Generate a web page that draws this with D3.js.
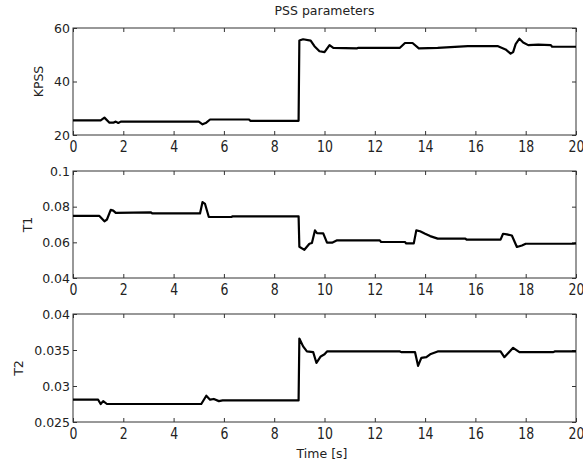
<!DOCTYPE html>
<html>
<head>
<meta charset="utf-8">
<script src="https://cdn.jsdelivr.net/npm/d3@7"></script>
<style>
  body { margin: 0; background: #fff; }
  text { font-family: "DejaVu Sans", Verdana, sans-serif; fill: #222; }
</style>
</head>
<body>
<div id="viz"></div>
<script>
// data (time in s)
var kpssTime  = [0, 1.1, 1.25, 1.45, 1.6, 1.7, 1.8, 1.9, 5.0, 5.15, 5.3, 5.45, 7.0, 7.05, 8.97,
                 9.0, 9.15, 9.45, 9.6, 9.8, 10.0, 10.2, 10.35, 11.3, 11.35, 13.0, 13.2, 13.5, 13.75,
                 14.5, 15.7, 16.9, 17.2, 17.4, 17.5, 17.6, 17.75, 17.9, 18.1, 18.5, 19.0, 19.05, 20];
var kpssValue = [25.5, 25.5, 26.5, 24.6, 24.6, 25.0, 24.5, 25.0, 25.0, 24.0, 24.6, 25.8, 25.8, 25.3, 25.3,
                 55.3, 55.8, 55.3, 53.2, 51.3, 51.0, 53.6, 52.6, 52.4, 52.6, 52.6, 54.4, 54.4, 52.4,
                 52.6, 53.2, 53.2, 52.0, 50.4, 51.0, 54.0, 56.0, 54.6, 53.6, 53.8, 53.6, 53.0, 53.0];

var t1Time  = [0, 1.05, 1.25, 1.35, 1.5, 1.6, 1.7, 3.1, 3.15, 5.05, 5.15, 5.25, 5.4, 6.3, 6.35, 8.97,
               9.0, 9.2, 9.4, 9.5, 9.62, 9.7, 9.95, 10.1, 10.3, 10.5, 12.2, 12.25, 13.2, 13.25, 13.55,
               13.65, 13.8, 14.0, 14.2, 14.5, 15.6, 15.65, 17.0, 17.1, 17.25, 17.45, 17.65, 17.85, 18.0,
               19.9, 20];
var t1Value = [0.0748, 0.0748, 0.0718, 0.0728, 0.0782, 0.0778, 0.0765, 0.0768, 0.0762, 0.0762, 0.0826,
               0.0815, 0.0742, 0.0742, 0.0746, 0.0746,
               0.0575, 0.0558, 0.0592, 0.0596, 0.0667, 0.0652, 0.065, 0.0598, 0.0598, 0.0611, 0.0611,
               0.0602, 0.0602, 0.0594, 0.0594,
               0.0667, 0.0662, 0.0648, 0.0635, 0.0621, 0.0621, 0.0615, 0.0615, 0.0648, 0.0645, 0.0638,
               0.0574, 0.0582, 0.0592, 0.0592, 0.0594];

var t2Time  = [0, 1.0, 1.1, 1.2, 1.35, 5.1, 5.3, 5.45, 5.6, 5.8, 5.95, 8.97,
               9.0, 9.15, 9.3, 9.55, 9.68, 9.85, 10.0, 10.1, 13.0, 13.05, 13.6, 13.72, 13.85, 14.05,
               14.2, 14.5, 17.0, 17.15, 17.5, 17.75, 19.1, 19.15, 20];
var t2Value = [0.0281, 0.0281, 0.0275, 0.0279, 0.0275, 0.0275, 0.02865, 0.0281, 0.0282, 0.0279, 0.0280, 0.0280,
               0.0366, 0.0355, 0.0348, 0.0347, 0.0332, 0.0341, 0.0344, 0.0348, 0.0348, 0.0347, 0.0347,
               0.0328, 0.0339, 0.0340, 0.0344, 0.0348, 0.0348, 0.0340, 0.0353, 0.0347, 0.0347, 0.0348, 0.0348];

var xTicks    = [0, 2, 4, 6, 8, 10, 12, 14, 16, 18, 20];
var kpssTicks = [20, 40, 60];
var t1Ticks   = [0.04, 0.06, 0.08, 0.1];
var t2Ticks   = [0.025, 0.03, 0.035, 0.04];

var W = 583, H = 467;
var left = 73, right = 576;

var svg = d3.select("#viz").append("svg")
  .attr("width", W)
  .attr("height", H);

var xScale = d3.scaleLinear().domain([0, 20]).range([left, right]);

var panels = [
  { label: "KPSS", time: kpssTime, value: kpssValue, ticks: kpssTicks, domain: [20, 60], top: 28, bottom: 135, labelX: 43 },
  { label: "T1", time: t1Time, value: t1Value, ticks: t1Ticks, domain: [0.04, 0.1], top: 171, bottom: 278, labelX: 32 },
  { label: "T2", time: t2Time, value: t2Value, ticks: t2Ticks, domain: [0.025, 0.04], top: 314, bottom: 422, labelX: 23 }
];

panels.forEach(function(p) {
  var yScale = d3.scaleLinear().domain(p.domain).range([p.bottom, p.top]);
  var g = svg.append("g");

  // frame
  g.append("rect")
    .attr("x", left).attr("y", p.top)
    .attr("width", right - left).attr("height", p.bottom - p.top)
    .attr("fill", "none").attr("stroke", "#333").attr("stroke-width", 1);

  // bottom axis, ticks pointing in
  var xb = g.append("g")
    .attr("transform", "translate(0," + p.bottom + ")")
    .call(d3.axisBottom(xScale).tickValues(xTicks).tickSize(-4).tickFormat(d3.format("d")));
  xb.selectAll("text")
    .attr("y", 0).attr("dy", 0)
    .attr("transform", "translate(0,17) scale(1,1.3)")
    .style("font-size", "12.5px");

  // top axis, ticks only
  g.append("g")
    .attr("transform", "translate(0," + p.top + ")")
    .call(d3.axisTop(xScale).tickValues(xTicks).tickSize(-4).tickFormat(""));

  // left axis
  var yl = g.append("g")
    .attr("transform", "translate(" + left + ",0)")
    .call(d3.axisLeft(yScale).tickValues(p.ticks).tickSize(-4).tickPadding(3).tickFormat(d3.format("")));
  yl.selectAll("text").style("font-size", "12.5px");

  // right axis, ticks only
  g.append("g")
    .attr("transform", "translate(" + right + ",0)")
    .call(d3.axisRight(yScale).tickValues(p.ticks).tickSize(-4).tickFormat(""));

  g.selectAll(".domain").remove();
  g.selectAll(".tick line").attr("stroke", "#333");
  g.selectAll(".tick text").attr("fill", "#222").style("font-family", "'DejaVu Sans', Verdana, sans-serif");

  // y label
  g.append("text")
    .attr("transform", "translate(" + p.labelX + "," + ((p.top + p.bottom) / 2) + ") rotate(-90)")
    .style("text-anchor", "middle")
    .style("font-size", "12.5px")
    .text(p.label);

  // line
  var pts = p.time.map(function(t, i) { return { t: t, v: p.value[i] }; });
  var line = d3.line()
    .x(function(d) { return xScale(d.t); })
    .y(function(d) { return yScale(d.v); });
  g.append("path")
    .datum(pts)
    .attr("fill", "none")
    .attr("stroke", "#000")
    .attr("stroke-width", 2.2)
    .attr("stroke-linejoin", "round")
    .attr("d", line);
});

// title
svg.append("text")
  .attr("x", (left + right) / 2)
  .attr("y", 15)
  .style("text-anchor", "middle")
  .style("font-size", "12.5px")
  .text("PSS parameters");

// x label
svg.append("text")
  .attr("x", 322)
  .attr("y", 458)
  .style("text-anchor", "middle")
  .style("font-size", "12.5px")
  .text("Time [s]");
</script>
</body>
</html>
